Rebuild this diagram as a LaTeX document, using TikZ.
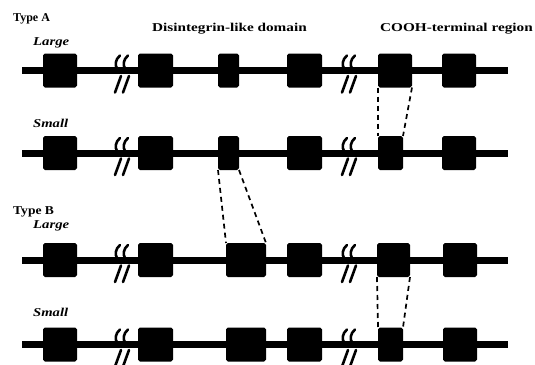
\documentclass[tikz,border=0pt]{standalone}
\usepackage{fontspec}
\setmainfont{Liberation Serif}
\usepackage{graphicx}
\begin{document}
\begin{tikzpicture}[x=1pt,y=-1pt,
  backbone/.style={line width=7pt},
  dom/.style={fill=black, draw=none, rounded corners=1.8pt, minimum height=34pt, inner sep=0pt, outer sep=0pt},
  conn/.style={line width=1.7pt, dash pattern=on 5pt off 4pt},
  brkline/.style={line width=2.6pt, line cap=round},
  hdr/.style={font=\fontsize{12}{13}\selectfont\bfseries, inner sep=0pt, anchor=base west},
  sub/.style={font=\fontsize{12}{13}\selectfont\bfseries\itshape, inner sep=0pt, anchor=base west},
  brk/.pic={
    \foreach \d in {0,8} {
      \draw[brkline] (\d+2,-15) .. controls (\d-3,-11) and (\d-3,-5) .. (\d-1,-2);
      \draw[brkline] (\d+3,5.5) -- (\d-3,22);
    }
  }]
\useasboundingbox (0,0) rectangle (535,364);

% labels
\node[hdr] (tA) at (13,21) {Type A};
\node[sub] (lA) at (33,45) {\scalebox{1.23}[1]{Large}};
\node[hdr] (h1) at (152,31.5) {\scalebox{1.27}[1]{Disintegrin-like domain}};
\node[hdr] (h2) at (380,31.5) {\scalebox{1.27}[1]{COOH-terminal region}};
\node[sub] (sA) at (33,127) {\scalebox{1.22}[1]{Small}};
\node[hdr] (tB) at (13,214) {\scalebox{1.13}[1]{Type B}};
\node[sub] (lB) at (33,228) {\scalebox{1.23}[1]{Large}};
\node[sub] (sB) at (33,316) {\scalebox{1.22}[1]{Small}};

% backbones
\foreach \r/\y in {1/70.5,2/153,3/260,4/344.5} {
  \coordinate (s\r) at (22,\y);
  \coordinate (e\r) at (508,\y);
  \draw[backbone] (s\r) -- (e\r);
  \pic at (118,\y) {brk};
  \pic at (345,\y) {brk};
}

% Type A Large
\node[dom, minimum width=34pt] (a1) at (60,70.5) {};
\node[dom, minimum width=35pt] (a2) at (155.5,70.5) {};
\node[dom, minimum width=21pt] (a3) at (228.5,70.5) {};
\node[dom, minimum width=35pt] (a4) at (304.5,70.5) {};
\node[dom, minimum width=34pt] (a5) at (395,70.5) {};
\node[dom, minimum width=34pt] (a6) at (459,70.5) {};
% Type A Small
\node[dom, minimum width=34pt] (b1) at (60,153) {};
\node[dom, minimum width=35pt] (b2) at (155.5,153) {};
\node[dom, minimum width=21pt] (b3) at (228.5,153) {};
\node[dom, minimum width=35pt] (b4) at (304.5,153) {};
\node[dom, minimum width=25pt] (b5) at (390.5,153) {};
\node[dom, minimum width=34pt] (b6) at (459,153) {};
% Type B Large
\node[dom, minimum width=34pt] (c1) at (60,260) {};
\node[dom, minimum width=35pt] (c2) at (155.5,260) {};
\node[dom, minimum width=40pt] (c3) at (246,260) {};
\node[dom, minimum width=35pt] (c4) at (304.5,260) {};
\node[dom, minimum width=33pt] (c5) at (393.5,260) {};
\node[dom, minimum width=34pt] (c6) at (460,260) {};
% Type B Small
\node[dom, minimum width=34pt] (d1) at (60,344.5) {};
\node[dom, minimum width=35pt] (d2) at (155.5,344.5) {};
\node[dom, minimum width=40pt] (d3) at (246,344.5) {};
\node[dom, minimum width=35pt] (d4) at (304.5,344.5) {};
\node[dom, minimum width=25pt] (d5) at (390.5,344.5) {};
\node[dom, minimum width=34pt] (d6) at (460,344.5) {};

% dashed correspondences
\draw[conn] (a5.south west) -- (b5.north west);
\draw[conn] (a5.south east) -- (b5.north east);
\draw[conn] (b3.south west) -- (c3.north west);
\draw[conn] (b3.south east) -- (c3.north east);
\draw[conn] (c5.south west) -- (d5.north west);
\draw[conn] (c5.south east) -- (d5.north east);
\end{tikzpicture}
\end{document}
